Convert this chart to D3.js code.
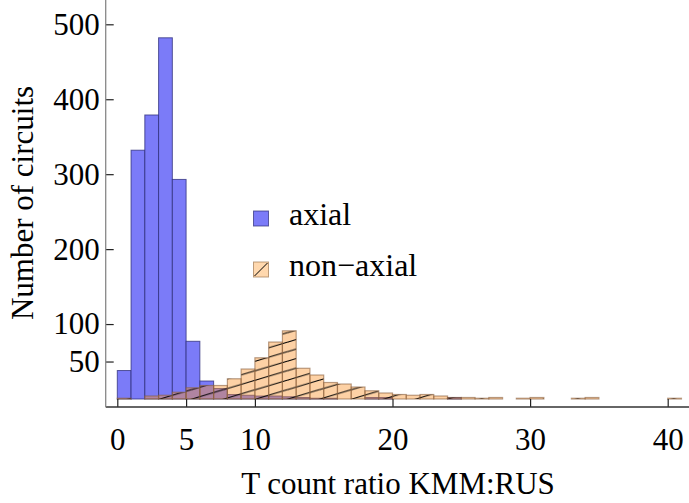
<!DOCTYPE html>
<html>
<head>
<meta charset="utf-8">
<script src="https://cdn.jsdelivr.net/npm/d3@7"></script>
<style>
  html, body { margin: 0; padding: 0; background: #fff; }
  svg text { font-family: "Liberation Serif", "Times New Roman", serif; fill: #000; }
</style>
</head>
<body>
<svg id="chart" width="689" height="503"></svg>
<script>
// bin edges: bin k covers [k, k+1)
const axialCounts = [38, 332, 379, 482, 293, 77, 24, 14, 6, 5, 4, 4, 3, 2, 1, 1, 0, 0, 2, 2, 0, 0, 0, 0, 2];
const nonAxialCounts = [1, 0, 4, 5, 9, 15, 18, 18, 27, 40, 55, 76, 91, 41, 32, 22, 20, 16, 11, 8,
                        6, 5, 6, 4, 2, 2, 1, 2, 0, 1, 2, 0, 0, 1, 2, 0, 0, 0, 0, 0, 1];
const xTicks = [0, 5, 10, 20, 30, 40];
const yTicks = [50, 100, 200, 300, 400, 500];
const seriesNames = ['axial', 'non\u2212axial'];

const svg = d3.select('#chart');
const width = 689, height = 503;

// x: 0 -> 117.3px, 40 -> 667.7px ; y: 0 -> 399px, 500 -> 24.3px
const x = d3.scaleLinear().domain([0, 40]).range([117.3, 667.7]);
const y = d3.scaleLinear().domain([0, 500]).range([399, 24.3]);
const axisX = 105.7, axisY = 407;

const toBins = counts => counts
    .map((v, i) => ({ x0: i, x1: i + 1, v }))
    .filter(d => d.v > 0);

// hatch pattern (continuous across bars)
const defs = svg.append('defs');
const pw = 32, ph = 9.5;
const pat = defs.append('pattern')
    .attr('id', 'hatch')
    .attr('patternUnits', 'userSpaceOnUse')
    .attr('width', pw)
    .attr('height', ph);
pat.append('rect').attr('width', pw).attr('height', ph).attr('fill', 'rgba(250,145,40,0.42)');
[[0, ph, pw, 0], [-pw, ph, 0, 0], [0, 2 * ph, pw, ph], [0, 0, pw, -ph]].forEach(([a, b, c, d]) => {
    pat.append('line')
        .attr('x1', a).attr('y1', b).attr('x2', c).attr('y2', d)
        .attr('stroke', '#000').attr('stroke-width', 1.1);
});

// axial bars
svg.append('g')
    .selectAll('rect')
    .data(toBins(axialCounts))
    .join('rect')
    .attr('x', d => x(d.x0))
    .attr('width', d => x(d.x1) - x(d.x0))
    .attr('y', d => y(d.v))
    .attr('height', d => y(0) - y(d.v))
    .attr('fill', '#7b7bf8')
    .attr('stroke', '#2c2c78')
    .attr('stroke-opacity', 0.75)
    .attr('stroke-width', 1);

// non-axial bars
svg.append('g')
    .selectAll('rect')
    .data(toBins(nonAxialCounts))
    .join('rect')
    .attr('x', d => x(d.x0))
    .attr('width', d => x(d.x1) - x(d.x0))
    .attr('y', d => y(d.v))
    .attr('height', d => y(0) - y(d.v))
    .attr('fill', 'url(#hatch)')
    .attr('stroke', '#8a6040')
    .attr('stroke-opacity', 0.6)
    .attr('stroke-width', 1.2);

// x axis
const gx = svg.append('g')
    .attr('transform', `translate(0,${axisY})`)
    .call(d3.axisBottom(x)
        .tickValues(xTicks)
        .tickSizeInner(-8)
        .tickSizeOuter(0)
        .tickPadding(21));
gx.select('.domain').remove();
gx.append('line')
    .attr('x1', axisX).attr('x2', width)
    .attr('stroke', '#333').attr('stroke-width', 1.3);
gx.selectAll('.tick line').attr('stroke', '#222').attr('stroke-width', 1.2);
gx.selectAll('.tick text')
    .attr('font-size', 31)
    .attr('font-family', '"Liberation Serif", serif')
    .attr('fill', '#000');

// y axis
const gy = svg.append('g')
    .attr('transform', `translate(${axisX},0)`)
    .call(d3.axisLeft(y)
        .tickValues(yTicks)
        .tickSizeInner(-8)
        .tickSizeOuter(0)
        .tickPadding(6));
gy.select('.domain').remove();
gy.append('line')
    .attr('y1', 0).attr('y2', axisY)
    .attr('stroke', '#888').attr('stroke-width', 1.3);
gy.selectAll('.tick line').attr('stroke', '#222').attr('stroke-width', 1.2);
gy.selectAll('.tick text')
    .attr('font-size', 31)
    .attr('font-family', '"Liberation Serif", serif')
    .attr('fill', '#000');

// axis labels
svg.append('text')
    .attr('x', 398)
    .attr('y', 494)
    .attr('text-anchor', 'middle')
    .attr('font-size', 31)
    .text('T count ratio KMM:RUS');

svg.append('text')
    .attr('transform', 'translate(33,203) rotate(-90)')
    .attr('text-anchor', 'middle')
    .attr('font-size', 31)
    .text('Number of circuits');

// legend
const legend = svg.append('g');
const rows = [
    { name: seriesNames[0], fill: '#7b7bf8', stroke: '#2c2c78', hatch: false },
    { name: seriesNames[1], fill: '#ffd8ae', stroke: '#a07850', hatch: true }
];
rows.forEach((r, i) => {
    const yy = 211 + i * 51;
    legend.append('rect')
        .attr('x', 253.5).attr('y', yy)
        .attr('width', 15).attr('height', 15)
        .attr('fill', r.fill)
        .attr('stroke', r.stroke)
        .attr('stroke-opacity', 0.7);
    if (r.hatch) {
        legend.append('line')
            .attr('x1', 254.5).attr('y1', yy + 14)
            .attr('x2', 267.5).attr('y2', yy + 1)
            .attr('stroke', '#000').attr('stroke-width', 1);
    }
    legend.append('text')
        .attr('x', 289)
        .attr('y', yy + 14)
        .attr('font-size', 32)
        .text(r.name);
});
</script>
</body>
</html>
